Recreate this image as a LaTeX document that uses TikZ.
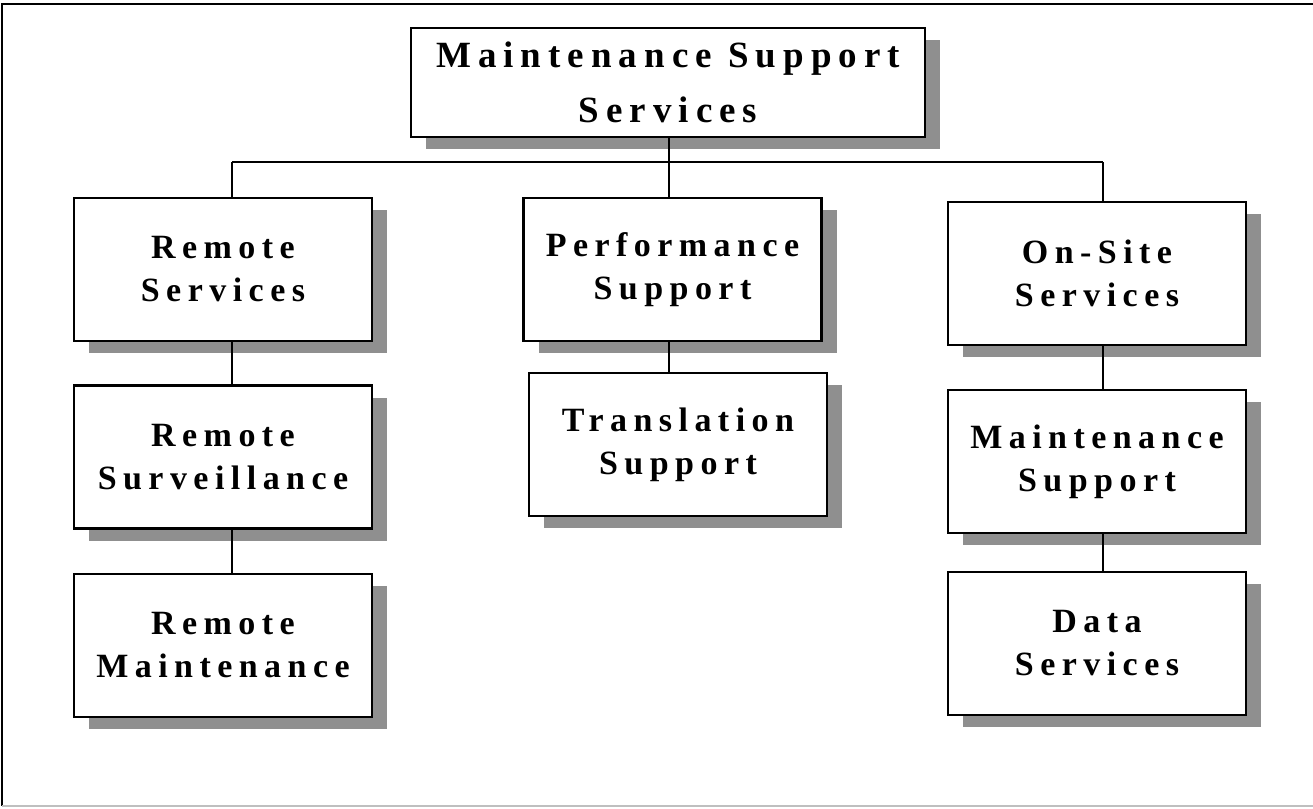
\documentclass[tikz,border=0pt]{standalone}
\usepackage{fontspec}
\newfontfamily\boxfont{Liberation Serif}[LetterSpace=19]
\usetikzlibrary{shadows}
\definecolor{shadowgray}{RGB}{143,143,143}

\begin{document}
\begin{tikzpicture}[x=1pt, y=-1pt,
    box/.style={draw, line width=2.6pt, fill=white, align=center, inner sep=0pt,
      minimum width=298pt, minimum height=143pt,
      font=\boxfont\bfseries\fontsize{34}{43}\selectfont,
      drop shadow={shadow xshift=15pt, shadow yshift=-12pt, fill=shadowgray, opacity=1}},
    link/.style={line width=2.2pt}]
  \useasboundingbox (0,0) rectangle (1313,808);
  % frame
  \draw[line width=2pt] (1313,4) -- (2,4) -- (2,806);
  \draw[line width=2pt, black!25] (2,806) -- (1313,806);
  % top box
  \node[box, minimum width=514pt, minimum height=109pt,
    font=\boxfont\bfseries\fontsize{37}{55}\selectfont] (top) at (668,82.5) {Maintenance Support\\Services};
  % service boxes
  \foreach \nm/\cx/\cy/\txt in {rs/223/269.5/{Remote\\Services}, ps/672.5/269.5/{Performance\\Support},
      os/1097/273.5/{On-Site\\Services}, rv/223/457/{Remote\\Surveillance},
      ts/678/444.5/{Translation\\Support}, ms/1097/461.5/{Maintenance\\Support},
      rm/223/645.5/{Remote\\Maintenance}, ds/1097/643.5/{Data\\Services}} {
    \node[box] (\nm) at (\cx,\cy) {\txt};
  }
  % connectors
  \coordinate (jl) at (232,162);
  \coordinate (jm) at (669,162);
  \coordinate (jr) at (1103,162);
  \draw[link] (jl) -- (jr);
  \draw[link] (top.south -| jm) -- (jm) -- (ps.north -| jm);
  \draw[link] (jl) -- (rs.north -| jl);
  \draw[link] (jr) -- (os.north -| jr);
  \draw[link] (rs.south -| jl) -- (rv.north -| jl);
  \draw[link] (rv.south -| jl) -- (rm.north -| jl);
  \draw[link] (ps.south -| jm) -- (ts.north -| jm);
  \draw[link] (os.south -| jr) -- (ms.north -| jr);
  \draw[link] (ms.south -| jr) -- (ds.north -| jr);
\end{tikzpicture}
\end{document}
